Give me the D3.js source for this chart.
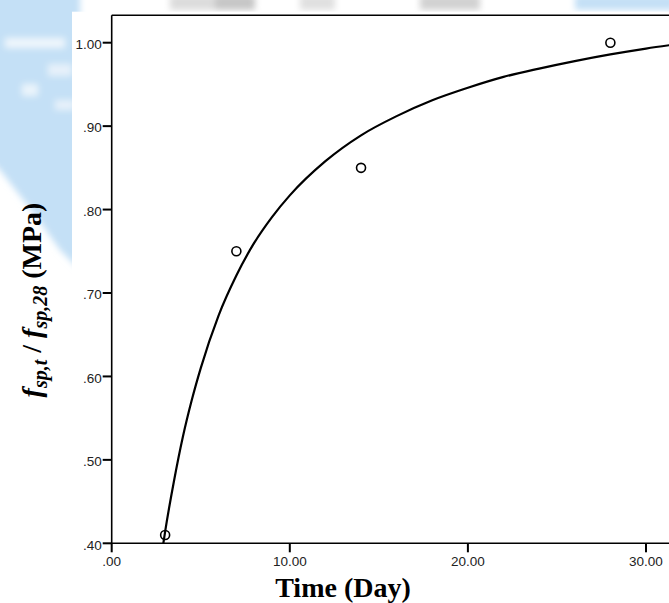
<!DOCTYPE html>
<html>
<head>
<meta charset="utf-8">
<script src="https://cdn.jsdelivr.net/npm/d3@7/dist/d3.min.js"></script>
<style>
  html, body { margin: 0; padding: 0; background: #fff; }
  svg { display: block; }
  .lbl { font-family: "Liberation Sans", Arial, sans-serif; font-size: 13.5px; fill: #222; }
  .title { font-family: "Liberation Serif", "Times New Roman", serif; font-weight: bold; fill: #000; }
</style>
</head>
<body>
<div id="chart"></div>
<script>
// observed values
var days = [3, 7, 14, 28];
var ratio = [0.41, 0.75, 0.85, 1.00];

// fitted curve
var fitDays = [2.9, 3, 3.5, 4, 4.5, 5, 6, 7, 8, 9, 10, 12, 14, 16, 18, 20, 22, 24, 26, 28, 30, 32];
var fitRatio = [0.400, 0.414, 0.475, 0.528, 0.572, 0.610, 0.673, 0.721, 0.760, 0.791, 0.817, 0.858,
                0.889, 0.912, 0.931, 0.946, 0.959, 0.969, 0.978, 0.986, 0.993, 0.999];

var xTicks = [0, 10, 20, 30];
var yTicks = [0.4, 0.5, 0.6, 0.7, 0.8, 0.9, 1.0];

var W = 669, H = 603;
var plotLeft = 111.7, plotBottom = 543.3, plotTop = 15.3;
var tickLen = 9;

var svg = d3.select("#chart")
    .append("svg")
    .attr("width", W)
    .attr("height", H);

// washed out page behind the figure
var defs = svg.append("defs");
defs.append("filter").attr("id", "soft")
    .attr("x", "-20%").attr("y", "-20%").attr("width", "140%").attr("height", "140%")
    .append("feGaussianBlur").attr("stdDeviation", 3);
defs.append("clipPath").attr("id", "plotclip")
    .append("rect")
    .attr("x", plotLeft).attr("y", plotTop)
    .attr("width", W - plotLeft).attr("height", plotBottom - plotTop);

var bg = svg.append("g").attr("filter", "url(#soft)");
bg.append("path")
    .attr("d", "M-10,-10 L80,-10 L80,270 L60,250 L35,215 L0,170 L-10,160 Z")
    .attr("fill", "#c4e0f6");
bg.append("rect").attr("x", 5).attr("y", 38).attr("width", 60).attr("height", 10).attr("fill", "#eef6fc");
bg.append("rect").attr("x", 48).attr("y", 64).attr("width", 24).attr("height", 12).attr("fill", "#e6f1fa");
bg.append("rect").attr("x", 22).attr("y", 84).attr("width", 16).attr("height", 12).attr("fill", "#eaf4fb");
bg.append("rect").attr("x", 55).attr("y", 100).attr("width", 20).attr("height", 10).attr("fill", "#e6f1fa");
bg.append("rect").attr("x", 170).attr("y", -5).attr("width", 60).attr("height", 15).attr("fill", "#dcdcdc");
bg.append("rect").attr("x", 215).attr("y", -5).attr("width", 40).attr("height", 15).attr("fill", "#c6c6c6");
bg.append("rect").attr("x", 300).attr("y", -5).attr("width", 35).attr("height", 15).attr("fill", "#e0e0e0");
bg.append("rect").attr("x", 420).attr("y", -5).attr("width", 60).attr("height", 15).attr("fill", "#d2d2d2");
bg.append("rect").attr("x", 575).attr("y", -5).attr("width", 100).attr("height", 15).attr("fill", "#c4e0f6");

svg.append("rect")
    .attr("x", 72).attr("y", 11.7)
    .attr("width", W - 72).attr("height", H)
    .attr("fill", "#fff");

var x = d3.scaleLinear().domain([0, 30]).range([plotLeft, 646]);
var y = d3.scaleLinear().domain([0.4, 1.0]).range([plotBottom, 42.7]);

function fmt(v) {
    return d3.format(".2f")(v).replace(/^0\./, ".");
}

// frame lines
var frame = "M" + plotLeft + "," + plotTop + "H" + W +
    "M" + plotLeft + "," + plotTop + "V" + plotBottom + "H" + W;
svg.append("path")
    .attr("d", frame)
    .attr("fill", "none")
    .attr("stroke", "#000")
    .attr("stroke-width", 1.6);

// tick marks as small filled bars
svg.selectAll("rect.xtick")
    .data(xTicks)
    .enter()
    .append("rect")
    .attr("class", "xtick")
    .attr("x", function (d) { return x(d) - 1; })
    .attr("y", plotBottom)
    .attr("width", 2)
    .attr("height", tickLen)
    .attr("fill", "#000");

svg.selectAll("rect.ytick")
    .data(yTicks)
    .enter()
    .append("rect")
    .attr("class", "ytick")
    .attr("x", plotLeft - tickLen)
    .attr("y", function (d) { return y(d) - 1; })
    .attr("width", tickLen)
    .attr("height", 2)
    .attr("fill", "#000");

// tick labels
svg.selectAll("text.xl")
    .data(xTicks)
    .enter()
    .append("text")
    .attr("class", "lbl xl")
    .attr("x", function (d) { return x(d); })
    .attr("y", plotBottom + 23)
    .attr("text-anchor", "middle")
    .text(fmt);

svg.selectAll("text.yl")
    .data(yTicks)
    .enter()
    .append("text")
    .attr("class", "lbl yl")
    .attr("x", plotLeft - tickLen - 1)
    .attr("y", function (d) { return y(d) + 6.3; })
    .attr("text-anchor", "end")
    .text(fmt);

// fit line
var fitLine = d3.line()
    .x(function (d, i) { return x(fitDays[i]); })
    .y(function (d) { return y(d); })
    .curve(d3.curveMonotoneX);

svg.append("path")
    .datum(fitRatio)
    .attr("clip-path", "url(#plotclip)")
    .attr("d", fitLine)
    .attr("fill", "none")
    .attr("stroke", "#000")
    .attr("stroke-width", 2.2);

// points
svg.selectAll("circle.pt")
    .data(ratio)
    .enter()
    .append("circle")
    .attr("class", "pt")
    .attr("cx", function (d, i) { return x(days[i]); })
    .attr("cy", function (d) { return y(d); })
    .attr("r", 4.5)
    .attr("fill", "none")
    .attr("stroke", "#000")
    .attr("stroke-width", 1.6);

// titles
svg.append("text")
    .attr("class", "title")
    .attr("x", 343)
    .attr("y", 597)
    .attr("text-anchor", "middle")
    .style("font-size", "28px")
    .text("Time (Day)");

var yt = svg.append("text")
    .attr("class", "title")
    .attr("transform", "translate(41,300) rotate(-90)")
    .attr("text-anchor", "middle")
    .style("font-size", "28px");
yt.append("tspan").attr("font-style", "italic").text("f");
yt.append("tspan").attr("font-style", "italic").attr("dy", 6).style("font-size", "20px").text("sp,t");
yt.append("tspan").attr("dy", -6).text(" / ");
yt.append("tspan").attr("font-style", "italic").text("f");
yt.append("tspan").attr("font-style", "italic").attr("dy", 6).style("font-size", "20px").text("sp,28");
yt.append("tspan").attr("dy", -6).text(" (MPa)");
</script>
</body>
</html>
